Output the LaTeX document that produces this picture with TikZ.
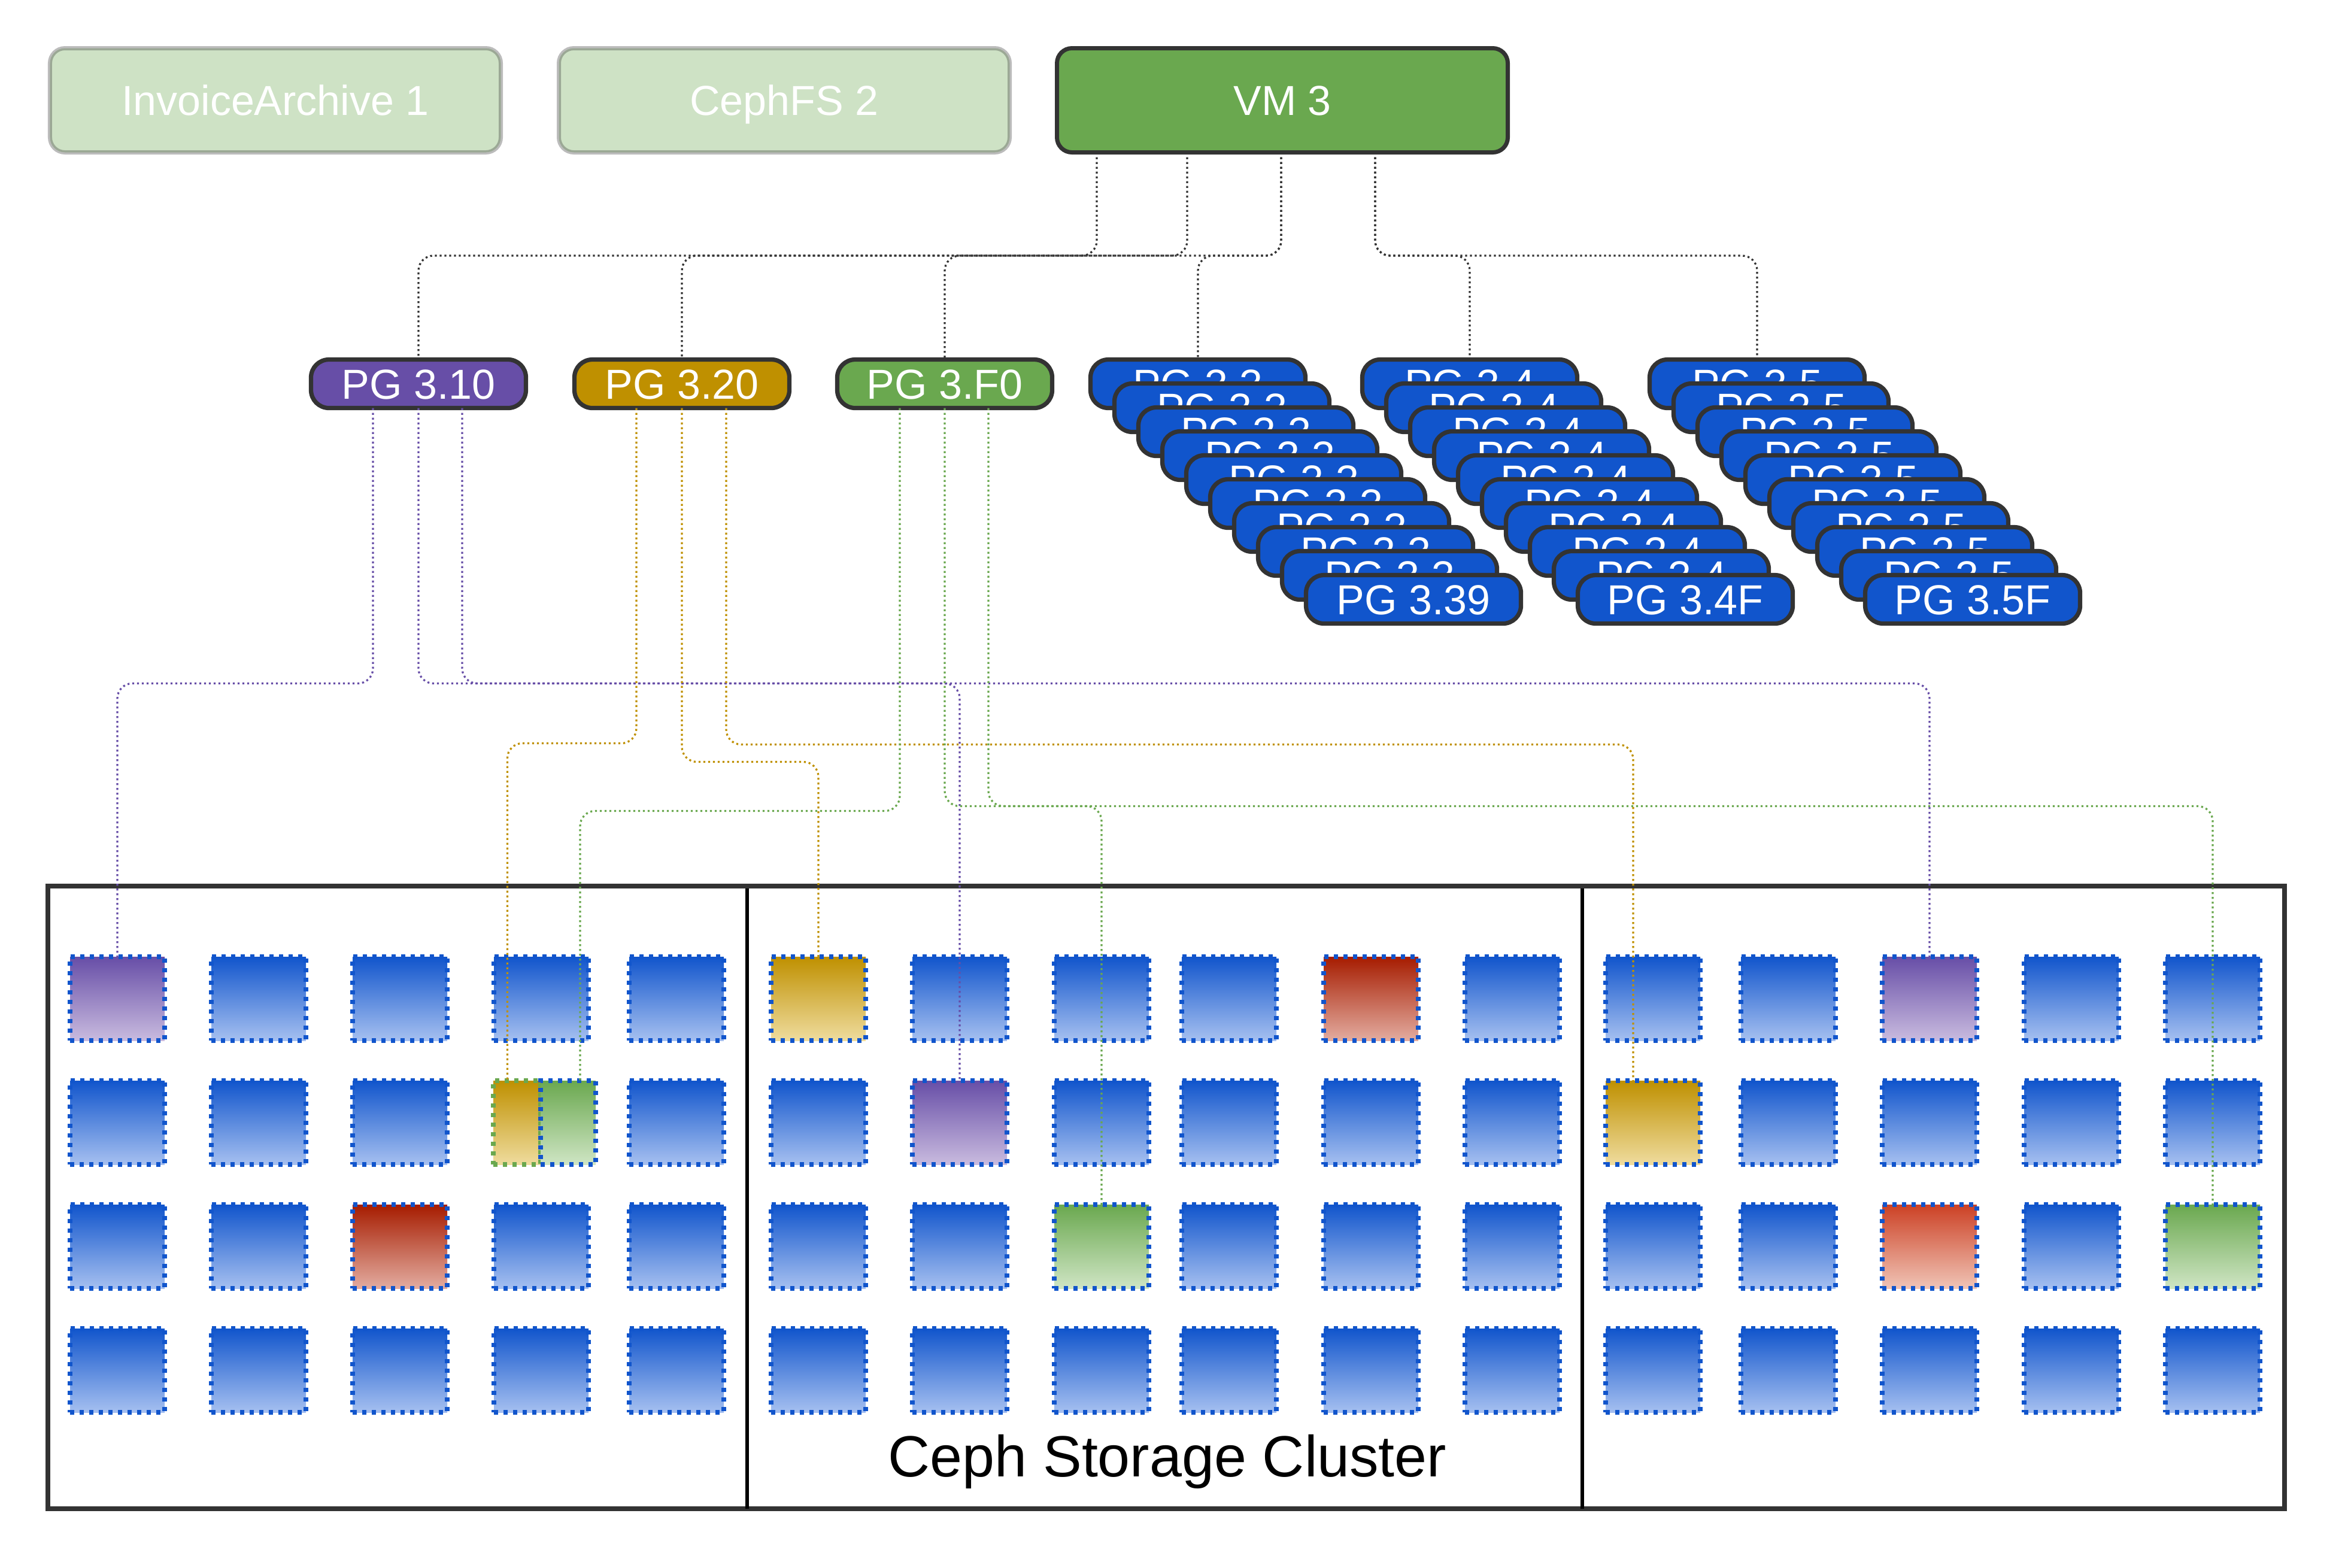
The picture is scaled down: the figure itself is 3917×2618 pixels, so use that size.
\documentclass[tikz,border=0pt]{standalone}
\usepackage{fontspec}
\setmainfont{Liberation Sans}
\usepackage{tikz}
\usetikzlibrary{calc,positioning}
\definecolor{darkline}{HTML}{333333}
\definecolor{vmgreen}{HTML}{6AA84F}
\definecolor{pgblue}{HTML}{1155CC}
\definecolor{pgpurple}{HTML}{674EA7}
\definecolor{pggold}{HTML}{BF9000}
\definecolor{pggreen}{HTML}{6AA84F}
\definecolor{disklight}{HTML}{A6C0F0}
\definecolor{purplelight}{HTML}{C9BBDF}
\definecolor{goldlight}{HTML}{EFDC9E}
\definecolor{greenlight}{HTML}{CFE5C4}
\definecolor{reddark}{HTML}{A61C00}
\definecolor{reddarklight}{HTML}{E3ACA0}
\definecolor{redmid}{HTML}{CC4125}
\definecolor{redmidlight}{HTML}{F0C4B6}
\tikzset{
    %Define style for the pool boxes
    pool/.style={
           rectangle,
           rounded corners=5pt,
           draw=darkline, line width=1.4pt,
           fill=vmgreen,
           minimum width=150.6pt,
           minimum height=34.8pt,
           inner sep=0pt, outer sep=0pt,
           text=white,
           font=\fontsize{14}{16}\selectfont,
           text height=10pt, text depth=0pt,
           text centered},
    faded/.style={
           pool,
           opacity=0.33,
           text opacity=1},
    %Define style for placement groups
    pg/.style={
           rectangle,
           rounded corners=6pt,
           draw=darkline, line width=1.45pt,
           fill=#1,
           minimum width=71.8pt,
           minimum height=16.2pt,
           inner sep=0pt, outer sep=0pt,
           text=white,
           font=\fontsize{14}{16}\selectfont,
           text height=10pt, text depth=0pt,
           text centered},
    %Define style for disks
    disk/.style={
           rectangle,
           draw=pgblue, line width=1.45pt,
           dash pattern=on 1.45pt off 1.75pt,
           top color=pgblue, bottom color=disklight,
           minimum width=31.6pt,
           minimum height=28pt,
           inner sep=0pt, outer sep=0pt},
    purpledisk/.style={top color=pgpurple, bottom color=purplelight},
    golddisk/.style={top color=pggold, bottom color=goldlight},
    greendisk/.style={top color=pggreen, bottom color=greenlight},
    reddisk/.style={top color=reddark, bottom color=reddarklight},
    redmiddisk/.style={top color=redmid, bottom color=redmidlight},
    d-L11/.style=purpledisk,
    d-M22/.style=purpledisk,
    d-R13/.style=purpledisk,
    d-M11/.style=golddisk,
    d-R21/.style=golddisk,
    d-L24/.style={golddisk, draw=pggreen, minimum width=15.8pt, xshift=-8.1pt},
    d-M33/.style=greendisk,
    d-R35/.style=greendisk,
    d-L33/.style=reddisk,
    d-M15/.style=reddisk,
    d-R33/.style=redmiddisk,
    % Define link styles
    link/.style={
           line width=0.65pt,
           dash pattern=on 0.65pt off 0.95pt,
           rounded corners=5pt},
    vmlink/.style={link, draw=darkline},
    purplelink/.style={link, draw=pgpurple},
    goldlink/.style={link, draw=pggold},
    greenlink/.style={link, draw=pggreen}
}

\begin{document}
\begin{tikzpicture}[x=0.2pt,y=-0.2pt]
\useasboundingbox (0,0) rectangle (3917,2618);

 %pools
\node[faded] (ia) at (460,167.5) {InvoiceArchive 1};
\node[faded] (fs) at (1310,167.5) {CephFS 2};
\node[pool] (vm) at (2142,167.5) {VM 3};

 %placement groups
\node[pg=pgpurple] (p310) at (699,641) {PG 3.10};
\node[pg=pggold] (p320) at (1139,641) {PG 3.20};
\node[pg=pggreen] (p3f0) at (1578,641) {PG 3.F0};

\foreach \i in {0,...,8}
    \node[pg=pgblue] (s33-\i) at (2001+40*\i,641+40*\i) {PG 3.3};
\node[pg=pgblue] (s33-9) at (2361,1001) {PG 3.39};
\foreach \i in {0,...,8}
    \node[pg=pgblue] (s34-\i) at (2455+40*\i,641+40*\i) {PG 3.4};
\node[pg=pgblue] (s34-9) at (2815,1001) {PG 3.4F};
\foreach \i in {0,...,8}
    \node[pg=pgblue] (s35-\i) at (2935+40*\i,641+40*\i) {PG 3.5};
\node[pg=pgblue] (s35-9) at (3295,1001) {PG 3.5F};

 %cluster
\node[draw=darkline, line width=1.6pt, minimum width=747.2pt, minimum height=208pt,
      inner sep=0pt, outer sep=0pt] (cluster) at (1948,2000) {};
\draw[line width=1.3pt] ($(cluster.north west)+(1168,4)$) -- ($(cluster.south west)+(1168,0)$);
\draw[line width=1.3pt] ($(cluster.north west)+(2563,4)$) -- ($(cluster.south west)+(2563,0)$);
\node[font=\fontsize{19.4}{22}\selectfont, anchor=base] (clabel) at (1950,2466) {Ceph Storage Cluster};

 %disks
\foreach \c/\x in {1/196,2/432,3/668,4/904,5/1130}
  \foreach \r/\y in {1/1668,2/1875,3/2082,4/2289}
    \node[disk, d-L\r\c/.try] (L\r\c) at (\x,\y) {};
\node[disk, greendisk, minimum width=18.4pt, right=0pt of L24] (L24b) {};
\foreach \c/\x in {1/1367,2/1603,3/1840,4/2053,5/2290,6/2526}
  \foreach \r/\y in {1/1668,2/1875,3/2082,4/2289}
    \node[disk, d-M\r\c/.try] (M\r\c) at (\x,\y) {};
\foreach \c/\x in {1/2761,2/2987,3/3223,4/3460,5/3696}
  \foreach \r/\y in {1/1668,2/1875,3/2082,4/2289}
    \node[disk, d-R\r\c/.try] (R\r\c) at (\x,\y) {};

 %links from the pool
\draw[vmlink] ($(vm.south)+(-310,0)$) -- ++(0,172.5) -| (p310.north);
\draw[vmlink] ($(vm.south)+(-159,0)$) -- ++(0,172.5) -| (p320.north);
\draw[vmlink] ($(vm.south)+(-2,0)$) -- ++(0,172.5) -| (p3f0.north);
\draw[vmlink] ($(vm.south)+(-2,0)$) -- ++(0,172.5) -| (s33-0.north);
\draw[vmlink] ($(vm.south)+(155,0)$) -- ++(0,172.5) -| (s34-0.north);
\draw[vmlink] ($(vm.south)+(155,0)$) -- ++(0,172.5) -| (s35-0.north);

 %links to the disks
\draw[purplelink] ($(p310.south)+(-76,0)$) -- ++(0,460) -| (L11.north);
\draw[purplelink] (p310.south) -- ++(0,460) -| (M22.north);
\draw[purplelink] ($(p310.south)+(73,0)$) -- ++(0,460) -| (R13.north);
\draw[goldlink] ($(p320.south)+(-76,0)$) -- ++(0,560) -| ($(L24.north)+(-16,0)$);
\draw[goldlink] (p320.south) -- ++(0,591) -| (M11.north);
\draw[goldlink] ($(p320.south)+(74,0)$) -- ++(0,562) -| ($(R21.north)+(-33,0)$);
\draw[greenlink] ($(p3f0.south)+(-75,0)$) -- ++(0,673) -| ($(L24b.north)+(20,0)$);
\draw[greenlink] (p3f0.south) -- ++(0,665) -| (M33.north);
\draw[greenlink] ($(p3f0.south)+(73,0)$) -- ++(0,665) -| (R35.north);

\end{tikzpicture}
\end{document}
